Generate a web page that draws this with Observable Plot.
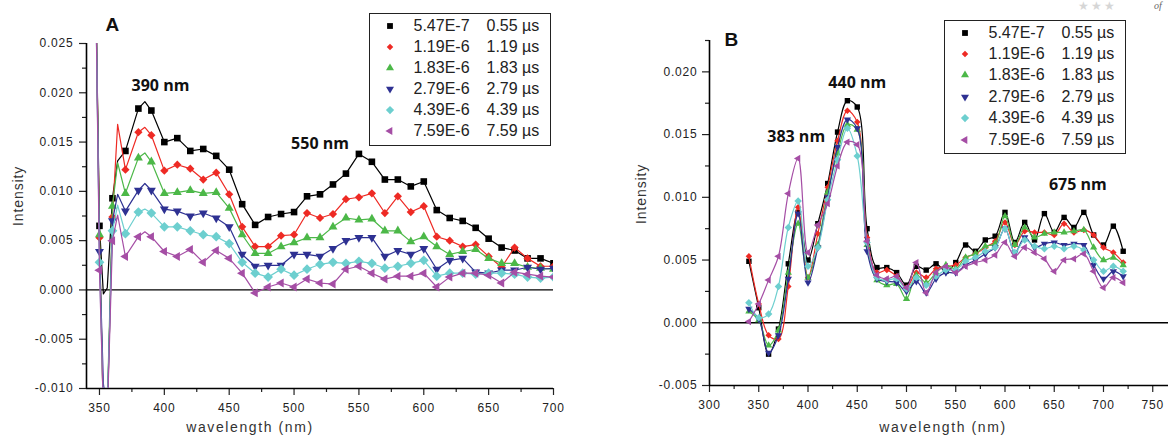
<!DOCTYPE html>
<html>
<head>
<meta charset="utf-8">
<script src="https://cdn.jsdelivr.net/npm/d3@7"></script>
<script src="https://cdn.jsdelivr.net/npm/@observablehq/plot@0.6"></script>
<style>
html, body { margin: 0; padding: 0; background: #fff; }
#root { position: relative; width: 1168px; height: 440px; overflow: hidden; font-family: "Liberation Sans", Arial, sans-serif; }
.panel { position: absolute; top: 0; }
.panel svg { overflow: visible; }
g[aria-label$="tick label"] text { letter-spacing: 0.8px; }
.leg { position: absolute; border: 1.5px solid #222; background: #fff; box-sizing: border-box; }
.leg span { position: absolute; font-size: 16px; line-height: 20px; height: 20px; color: #222; white-space: nowrap; }
.leg svg { position: absolute; }
.deco { position: absolute; color: #d6d6d6; white-space: nowrap; }
</style>
</head>
<body>
<div id="root"></div>
<script>
// ---------- data ----------
const concLabels = ["5.47E-7", "1.19E-6", "1.83E-6", "2.79E-6", "4.39E-6", "7.59E-6"];
const timeLabels = ["0.55 µs", "1.19 µs", "1.83 µs", "2.79 µs", "4.39 µs", "7.59 µs"];

// Panel A wavelengths (nm)
const wlA = [347, 350, 353, 356, 360, 364, 370, 380, 385, 390,
  400, 410, 420, 430, 440, 450, 460, 470, 480, 490, 500,
  510, 520, 530, 540, 550, 560, 570, 580, 590, 600,
  610, 620, 630, 640, 650, 660, 670, 680, 690, 700];

const aBlack = [0.032, 0.0065, -0.0004, 0.0002, 0.0093, 0.0131, 0.0141, 0.0184, 0.0191, 0.0182,
  0.0150, 0.0154, 0.0141, 0.0143, 0.0136, 0.0122, 0.0087, 0.0066, 0.0074, 0.0077, 0.0079,
  0.0095, 0.0097, 0.0107, 0.0118, 0.0138, 0.0130, 0.0112, 0.0112, 0.0105, 0.0110,
  0.0081, 0.0073, 0.0070, 0.0063, 0.0052, 0.0043, 0.0040, 0.0032, 0.0032, 0.0027];
const aRed = [0.032, 0.0053, -0.013, -0.013, 0.0074, 0.0168, 0.0122, 0.0160, 0.0165, 0.0157,
  0.0121, 0.0127, 0.0123, 0.0112, 0.0119, 0.0097, 0.0064, 0.0044, 0.0044, 0.0055, 0.0056,
  0.0078, 0.0073, 0.0077, 0.0092, 0.0094, 0.0098, 0.0078, 0.0095, 0.0079, 0.0085,
  0.0054, 0.0050, 0.0044, 0.0046, 0.0034, 0.0023, 0.0043, 0.0032, 0.0024, 0.0024];
const aGreen = [0.032, 0.0056, -0.013, -0.012, 0.0085, 0.0129, 0.0098, 0.0134, 0.0139, 0.0130,
  0.0098, 0.0099, 0.0101, 0.0098, 0.0099, 0.0083, 0.0056, 0.0037, 0.0037, 0.0044, 0.0048,
  0.0053, 0.0053, 0.0064, 0.0073, 0.0071, 0.0072, 0.0060, 0.0060, 0.0049, 0.0054,
  0.0044, 0.0036, 0.0039, 0.0041, 0.0032, 0.0027, 0.0027, 0.0023, 0.0022, 0.0021];
const aBlue = [0.032, 0.0039, -0.0095, -0.0125, 0.0070, 0.0097, 0.0080, 0.0101, 0.0108, 0.0101,
  0.0082, 0.0080, 0.0075, 0.0078, 0.0073, 0.0064, 0.0036, 0.0024, 0.0025, 0.0025, 0.0036,
  0.0036, 0.0034, 0.0042, 0.0050, 0.0053, 0.0053, 0.0034, 0.0040, 0.0036, 0.0042,
  0.0021, 0.0030, 0.0032, 0.0018, 0.0017, 0.0020, 0.0020, 0.0023, 0.0021, 0.0022];
const aCyan = [0.032, 0.0028, -0.012, -0.012, 0.0060, 0.0086, 0.0057, 0.0079, 0.0082, 0.0078,
  0.0064, 0.0064, 0.0060, 0.0056, 0.0054, 0.0047, 0.0028, 0.0017, 0.0013, 0.0021, 0.0015,
  0.0021, 0.0026, 0.0028, 0.0027, 0.0029, 0.0027, 0.0022, 0.0024, 0.0027, 0.0030,
  0.0014, 0.0017, 0.0017, 0.0016, 0.0017, 0.0017, 0.0016, 0.0013, 0.0012, 0.0013];
const aMagenta = [0.032, 0.0020, -0.012, -0.013, 0.0050, 0.0076, 0.0034, 0.0054, 0.0059, 0.0054,
  0.0039, 0.0034, 0.0041, 0.0028, 0.0040, 0.0032, 0.0017, -0.0003, 0.0003, 0.0007, 0.0003,
  0.0011, 0.0007, 0.0006, 0.0021, 0.0024, 0.0017, 0.0011, 0.0014, 0.0014, 0.0017,
  0.0003, 0.0013, 0.0017, 0.0017, 0.0015, 0.0007, 0.0018, 0.0016, 0.0014, 0.0013];

// Panel B wavelengths (nm)
const wlB = [340, 350, 360, 370, 380, 390, 400, 410, 420, 430, 440, 450,
  460, 470, 480, 490, 500, 510, 520, 530, 540, 550, 560, 570, 580, 590, 600,
  610, 620, 630, 640, 650, 660, 670, 680, 690, 700, 710, 720];

const bBlack = [0.0049, 0.0012, -0.0025, -0.0005, 0.0047, 0.0088, 0.0050, 0.0079, 0.0111, 0.0152, 0.0177, 0.0172,
  0.0075, 0.0044, 0.0044, 0.0040, 0.0030, 0.0045, 0.0042, 0.0047, 0.0041, 0.0048,
  0.0062, 0.0057, 0.0066, 0.0069, 0.0088, 0.0064, 0.0080, 0.0066, 0.0087, 0.0072,
  0.0084, 0.0076, 0.0088, 0.0070, 0.0062, 0.0077, 0.0057];
const bRed = [0.0053, 0.0015, -0.0010, -0.0013, 0.0029, 0.0092, 0.0036, 0.0071, 0.0108, 0.0145, 0.0169, 0.0160,
  0.0068, 0.0040, 0.0042, 0.0037, 0.0028, 0.0040, 0.0036, 0.0043, 0.0045, 0.0046,
  0.0052, 0.0055, 0.0060, 0.0065, 0.0080, 0.0062, 0.0073, 0.0072, 0.0072, 0.0070,
  0.0079, 0.0072, 0.0074, 0.0070, 0.0060, 0.0056, 0.0048];
const bGreen = [0.0009, 0.0002, -0.0018, -0.0006, 0.0040, 0.0079, 0.0036, 0.0062, 0.0104, 0.0135, 0.0158, 0.0154,
  0.0062, 0.0034, 0.0030, 0.0031, 0.0019, 0.0038, 0.0032, 0.0040, 0.0046, 0.0043,
  0.0052, 0.0055, 0.0061, 0.0063, 0.0085, 0.0062, 0.0076, 0.0068, 0.0071, 0.0072,
  0.0072, 0.0073, 0.0074, 0.0060, 0.0050, 0.0052, 0.0046];
const bBlue = [0.0011, 0.0003, -0.0024, -0.0010, 0.0035, 0.0087, 0.0032, 0.0060, 0.0100, 0.0140, 0.0162, 0.0155,
  0.0057, 0.0035, 0.0033, 0.0032, 0.0025, 0.0033, 0.0024, 0.0035, 0.0040, 0.0040,
  0.0046, 0.0050, 0.0055, 0.0060, 0.0075, 0.0056, 0.0068, 0.0060, 0.0063, 0.0064,
  0.0062, 0.0063, 0.0062, 0.0046, 0.0035, 0.0041, 0.0037];
const bCyan = [0.0016, 0.0004, 0.0007, 0.0029, 0.0076, 0.0097, 0.0045, 0.0060, 0.0098, 0.0130, 0.0155, 0.0133,
  0.0064, 0.0036, 0.0034, 0.0035, 0.0027, 0.0036, 0.0030, 0.0037, 0.0042, 0.0042,
  0.0049, 0.0052, 0.0057, 0.0060, 0.0075, 0.0056, 0.0066, 0.0061, 0.0059, 0.0061,
  0.0059, 0.0061, 0.0058, 0.0050, 0.0041, 0.0045, 0.0041];
const bMagenta = [0.0001, 0.0015, 0.0034, 0.0053, 0.0103, 0.0131, 0.0056, 0.0078, 0.0095, 0.0125, 0.0144, 0.0142,
  0.0065, 0.0038, 0.0035, 0.0037, 0.0028, 0.0048, 0.0024, 0.0040, 0.0045, 0.0040,
  0.0045, 0.0048, 0.0050, 0.0054, 0.0064, 0.0053, 0.0060, 0.0056, 0.0051, 0.0041,
  0.0050, 0.0051, 0.0055, 0.0041, 0.0028, 0.0036, 0.0032];

// ticks
const xTicksA = [350, 400, 450, 500, 550, 600, 650, 700];
const xMinorA = [375, 425, 475, 525, 575, 625, 675];
const yTicksA = [-0.010, -0.005, 0.000, 0.005, 0.010, 0.015, 0.020, 0.025];
const yMinorA = [-0.0075, -0.0025, 0.0025, 0.0075, 0.0125, 0.0175, 0.0225];
const xTicksB = [300, 350, 400, 450, 500, 550, 600, 650, 700, 750];
const xMinorB = [325, 375, 425, 475, 525, 575, 625, 675, 725];
const yTicksB = [-0.005, 0.000, 0.005, 0.010, 0.015, 0.020];
const yMinorB = [-0.0025, 0.0025, 0.0075, 0.0125, 0.0175, 0.0225];

// annotations (text, wavelength, intensity)
const peakLabelsA = [["390 nm", 397, 0.0207], ["550 nm", 520, 0.0148]];
const peakLabelsB = [["440 nm", 450, 0.0191], ["383 nm", 388, 0.0148], ["675 nm", 674, 0.0110]];

// ---------- styles ----------
const colors = ["#000000", "#ee2a24", "#4cb848", "#2e3192", "#6dcfcf", "#a54ea5"];
const shapes = ["square", "diamond", "up", "down", "diamond", "left"];
const rA = [3.3, 3.3, 3.7, 3.7, 3.9, 3.7];
const rB = [2.7, 2.6, 3.0, 3.0, 3.0, 3.0];

function makeSymbol(kind) {
  return {
    draw(c, size) {
      const r = Math.sqrt(size / Math.PI);
      if (kind === "square") { c.rect(-r, -r, 2 * r, 2 * r); }
      else if (kind === "diamond") { const R = r * 1.25; c.moveTo(0, -R); c.lineTo(R, 0); c.lineTo(0, R); c.lineTo(-R, 0); c.closePath(); }
      else if (kind === "up") { const R = r * 1.4; c.moveTo(0, -R); c.lineTo(R * 0.866, R * 0.5); c.lineTo(-R * 0.866, R * 0.5); c.closePath(); }
      else if (kind === "down") { const R = r * 1.4; c.moveTo(0, R); c.lineTo(R * 0.866, -R * 0.5); c.lineTo(-R * 0.866, -R * 0.5); c.closePath(); }
      else if (kind === "left") { const R = r * 1.4; c.moveTo(-R, 0); c.lineTo(R * 0.5, -R * 0.866); c.lineTo(R * 0.5, R * 0.866); c.closePath(); }
    }
  };
}
const symbols = shapes.map(makeSymbol);

function rows(wl, vals) { return wl.map((w, i) => ({wl: w, v: vals[i]})); }

const seriesA = [aBlack, aRed, aGreen, aBlue, aCyan, aMagenta].map(v => rows(wlA, v));
const seriesB = [bBlack, bRed, bGreen, bBlue, bCyan, bMagenta].map(v => rows(wlB, v));

const fmt = d => d.toFixed(3);
const axisStyle = {strokeWidth: 1.2};

function seriesMarks(series, rArr, curve, markerFilter) {
  const marks = [];
  series.forEach((data, i) => {
    marks.push(Plot.line(data, {x: "wl", y: "v", stroke: colors[i], strokeWidth: 1.2, curve, clip: true}));
    marks.push(Plot.dot(data.filter(markerFilter), {x: "wl", y: "v", symbol: symbols[i], r: rArr[i], fill: colors[i], stroke: "none", clip: true}));
  });
  return marks;
}

const root = document.getElementById("root");

// ---------- Panel A ----------
const plotA = Plot.plot({
  width: 570, height: 440,
  marginLeft: 86, marginRight: 17, marginTop: 43, marginBottom: 52,
  x: {domain: [340, 700]},
  y: {domain: [-0.010, 0.025]},
  style: {fontFamily: "Liberation Sans, Arial, sans-serif", fontSize: "12px", color: "#222", background: "transparent"},
  marks: [
    Plot.axisY({ticks: yTicksA, tickSize: 7, tickPadding: 6, tickFormat: fmt, label: null, ...axisStyle}),
    Plot.axisY({ticks: yMinorA, tickSize: 4, tickFormat: () => "", label: null, ...axisStyle}),
    Plot.axisX({ticks: xTicksA, tickSize: 7, tickPadding: 8, label: null, ...axisStyle}),
    Plot.axisX({ticks: xMinorA, tickSize: 4, tickFormat: () => "", label: null, ...axisStyle}),
    Plot.ruleX([340], {stroke: "#000", strokeWidth: 1.6}),
    Plot.ruleY([-0.010], {stroke: "#000", strokeWidth: 1.6}),
    Plot.ruleY([0], {stroke: "#000", strokeWidth: 1.3}),
    ...seriesMarks(seriesA, rA, "linear", d => d.wl >= 350 && d.wl % 10 === 0),
    Plot.text(peakLabelsA, {x: d => d[1], y: d => d[2], text: d => d[0], fontWeight: "bold", fontSize: 16, fontFamily: "Open Sans, sans-serif", fill: "#111"}),
    Plot.text(["A"], {frameAnchor: "top-left", dx: 19, dy: -26, fontWeight: "bold", fontSize: 19, fill: "#111"}),
    Plot.text(["Intensity"], {frameAnchor: "left", dx: -68, dy: 10, rotate: -90, fontSize: 14, fill: "#333"}),
    Plot.text(["wavelength (nm)"], {frameAnchor: "bottom", dx: -70, dy: 43, fontSize: 14, fill: "#333"})
  ]
});

// ---------- Panel B ----------
const plotB = Plot.plot({
  width: 568, height: 440,
  marginLeft: 109, marginRight: 0, marginTop: 40, marginBottom: 55,
  x: {domain: [300, 766]},
  y: {domain: [-0.005, 0.0225]},
  style: {fontFamily: "Liberation Sans, Arial, sans-serif", fontSize: "12px", color: "#222", background: "transparent"},
  marks: [
    Plot.axisY({ticks: yTicksB, tickSize: 7, tickPadding: 5, tickFormat: fmt, label: null, ...axisStyle}),
    Plot.axisY({ticks: yMinorB, tickSize: 4, tickFormat: () => "", label: null, ...axisStyle}),
    Plot.axisX({ticks: xTicksB, tickSize: 7, tickPadding: 8, label: null, ...axisStyle}),
    Plot.axisX({ticks: xMinorB, tickSize: 4, tickFormat: () => "", label: null, ...axisStyle}),
    Plot.ruleX([300], {stroke: "#000", strokeWidth: 1.6}),
    Plot.ruleY([-0.005], {stroke: "#000", strokeWidth: 1.6}),
    Plot.ruleY([0], {stroke: "#000", strokeWidth: 1.3}),
    ...seriesMarks(seriesB, rB, "catmull-rom", d => true),
    Plot.text(peakLabelsB, {x: d => d[1], y: d => d[2], text: d => d[0], fontWeight: "bold", fontSize: 16, fontFamily: "Open Sans, sans-serif", fill: "#111"}),
    Plot.text(["B"], {frameAnchor: "top-left", dx: 15, dy: -8, fontWeight: "bold", fontSize: 19, fill: "#111"}),
    Plot.text(["Intensity"], {frameAnchor: "left", dx: -68, dy: 11, rotate: -90, fontSize: 14, fill: "#333"}),
    Plot.text(["wavelength (nm)"], {frameAnchor: "bottom", dx: 4, dy: 46, fontSize: 14, fill: "#333"})
  ]
});

function place(svg, left) {
  const wrap = document.createElement("div");
  wrap.className = "panel";
  wrap.style.left = left + "px";
  wrap.appendChild(svg);
  root.appendChild(wrap);
  d3.select(svg).selectAll("text")
    .filter(function () { return this.textContent === "wavelength (nm)"; })
    .style("letter-spacing", "1.6px");
  d3.select(svg).selectAll("text")
    .filter(function () { return this.textContent === "Intensity"; })
    .style("letter-spacing", "0.9px");
}
place(plotA, 0);
place(plotB, 600);

// ---------- legends ----------
function legend(left, top, w, h, step, mr) {
  const box = document.createElement("div");
  box.className = "leg";
  Object.assign(box.style, {left: left + "px", top: top + "px", width: w + "px", height: h + "px"});
  concLabels.forEach((c, i) => {
    const cy = 11.5 + i * step;
    const p = d3.path();
    symbols[i].draw(p, Math.PI * mr[i] * mr[i]);
    const svg = d3.create("svg").attr("width", 16).attr("height", 16)
      .style("left", (19.5 - 8) + "px").style("top", (cy - 8) + "px");
    svg.append("path").attr("d", p.toString()).attr("transform", "translate(8,8)").attr("fill", colors[i]);
    box.appendChild(svg.node());
    const s1 = document.createElement("span");
    s1.textContent = c;
    Object.assign(s1.style, {left: "43.5px", top: (cy - 10) + "px"});
    box.appendChild(s1);
    const s2 = document.createElement("span");
    s2.textContent = timeLabels[i];
    Object.assign(s2.style, {left: "116.5px", top: (cy - 10) + "px"});
    box.appendChild(s2);
  });
  root.appendChild(box);
}
legend(369, 13, 182, 133, 21, [2.9, 2.6, 3.3, 3.3, 3.3, 3.3]);
legend(944, 20, 182, 134, 21.4, [2.9, 2.6, 3.3, 3.3, 3.3, 3.3]);

// faint page decoration at the top right corner
const deco = document.createElement("div");
deco.className = "deco";
Object.assign(deco.style, {left: "1078px", top: "0px", fontSize: "12px", lineHeight: "12px", letterSpacing: "2px"});
deco.textContent = "★★★";
root.appendChild(deco);
const of = document.createElement("div");
of.className = "deco";
Object.assign(of.style, {left: "1154px", top: "0px", fontSize: "10px", lineHeight: "11px", fontStyle: "italic", fontFamily: "Liberation Serif, serif", color: "#666"});
of.textContent = "of";
root.appendChild(of);
</script>
</body>
</html>
